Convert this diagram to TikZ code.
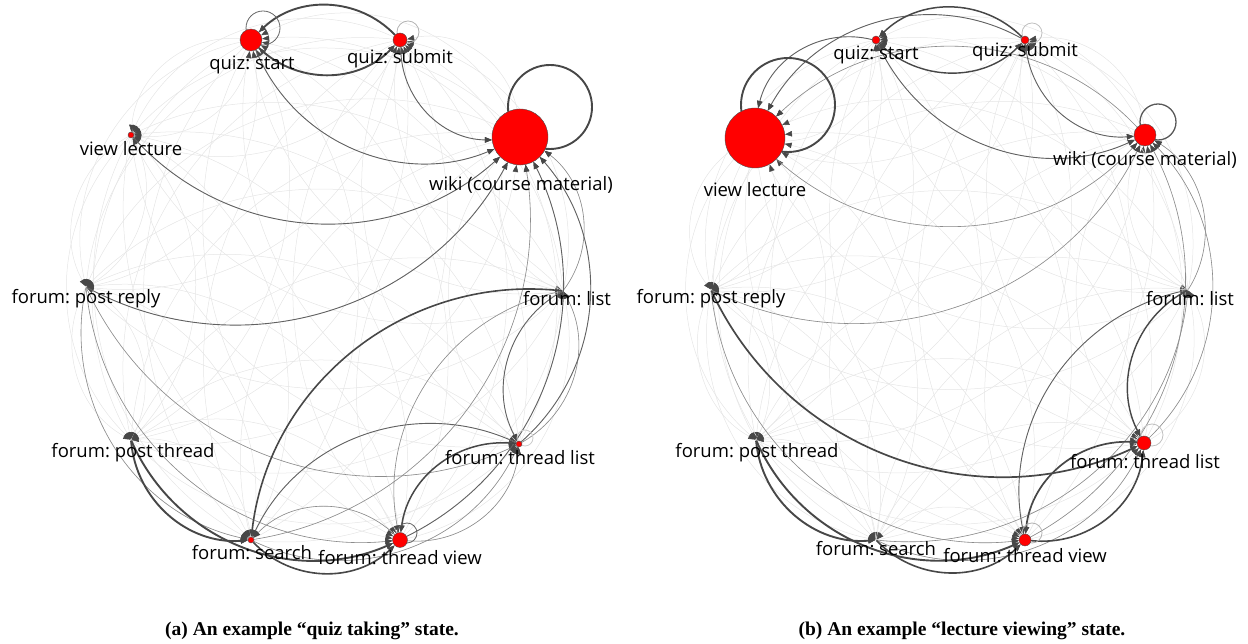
\documentclass[tikz,border=0pt]{standalone}
\usepackage{fontspec}
\setmainfont{Liberation Serif}
\newfontfamily\labelfont{Open Sans}
\usetikzlibrary{arrows.meta,backgrounds}
\frenchspacing

\begin{document}
\begin{tikzpicture}[x=1pt,y=1pt,
		state/.style={circle,inner sep=0pt,fill=red,draw=black!70,line width=0.4pt},
		hidden/.style={circle,inner sep=0pt,minimum size=1pt},
		lbl/.style={font=\labelfont\fontsize{18.5}{20}\selectfont,inner sep=0pt},
		tip/.style={-{Triangle[length=7pt,width=5.5pt,color=black!72]}},
		faint/.style={tip,draw=black!10,line width=0.5pt,bend right=45},
		light/.style={tip,draw=black!45,line width=0.6pt,bend right=45},
		medium/.style={tip,draw=black!62,line width=0.9pt,bend right=45},
		heavy/.style={tip,draw=black!72,line width=1.9pt,bend right=45},
		selfloop/.style={draw=black!60,line width=0.8pt}]
	\path[use as bounding box] (0,0) rectangle (1248,644);

	% (a) states on the circle, node size = share of the state
	\node[state,minimum size=22pt] (aqs) at (251,604) {};
	\node[state,minimum size=14pt] (aqsub) at (400,604) {};
	\node[state,minimum size=56pt] (awiki) at (520,507) {};
	\node[state,minimum size=6pt] (avl) at (131,509) {};
	\node[hidden] (apr) at (86,357) {};
	\node[hidden] (alist) at (563,353) {};
	\node[hidden] (apt) at (131,204) {};
	\node[state,minimum size=6pt] (atl) at (519,200) {};
	\node[state,minimum size=6pt] (asearch) at (251,104) {};
	\node[state,minimum size=15pt] (atv) at (400,104) {};

	% (b) the same states, other weights
	\node[state,minimum size=8pt] (bqs) at (876,604) {};
	\node[state,minimum size=8pt] (bqsub) at (1025,604) {};
	\node[state,minimum size=22pt] (bwiki) at (1145,509) {};
	\node[state,minimum size=60pt] (bvl) at (755,506) {};
	\node[hidden] (bpr) at (711,354) {};
	\node[hidden] (blist) at (1188,354) {};
	\node[hidden] (bpt) at (756,204) {};
	\node[state,minimum size=14pt] (btl) at (1144,201) {};
	\node[hidden] (bsearch) at (876,104) {};
	\node[state,minimum size=12pt] (btv) at (1025,104) {};

	\begin{scope}[on background layer]
		% every transition, drawn faintly
		\foreach \src in {qs,qsub,wiki,vl,pr,list,pt,tl,search,tv}{
			\foreach \dst in {qs,qsub,wiki,vl,pr,list,pt,tl,search,tv}{
				\ifx\src\dst\else
					\draw[faint] (a\src) to (a\dst);
					\draw[faint] (b\src) to (b\dst);
				\fi
			}
		}

		% (a) frequent transitions
		\draw[light] (alist) to (awiki);
		\draw[light] (asearch) to (awiki);
		\draw[light] (atv) to (asearch);
		\draw[light] (alist) to (atv);
		\draw[light] (apr) to (asearch);
		\draw[light] (apr) to (atv);
		\draw[light] (apr) to (atl);
		\draw[light] (atl) to (alist);
		\draw[light] (atv) to (atl);
		\draw[light] (asearch) to (atl);
		\draw[medium] (aqsub) to (awiki);
		\draw[medium] (aqs) to (awiki);
		\draw[medium] (avl) to (awiki);
		\draw[medium] (apr) to (awiki);
		\draw[medium] (atl) to (awiki);
		\draw[medium] (atv) to (awiki);
		\draw[medium] (atl) to (asearch);
		\draw[medium] (alist) to (atl);
		\draw[heavy] (aqsub) to (aqs);
		\draw[heavy] (aqs) to (aqsub);
		\draw[heavy,line width=1.6pt] (alist) to (asearch);
		\draw[heavy,line width=1.5pt] (atl) to (atv);
		\draw[heavy] (apt) to (asearch);
		\draw[heavy] (apt) to (atv);
		\draw[heavy,line width=1.6pt] (asearch) to (atv);
		% (a) self-loops
		\draw[selfloop] (aqs) ++(12,12) circle[radius=17];
		\draw[selfloop,draw=black!30] (aqsub) ++(8,8) circle[radius=11];
		\draw[selfloop,draw=black!72,line width=1.9pt] (awiki) ++(30,30) circle[radius=42];
		\draw[selfloop] (atv) ++(7,7) circle[radius=10];
		\draw[selfloop,draw=black!20] (atl) ++(6,6) circle[radius=8];

		% (b) frequent transitions
		\draw[light] (bvl) to (bwiki);
		\draw[light] (bwiki) to (bvl);
		\draw[light] (bpr) to (bwiki);
		\draw[light] (btl) to (bwiki);
		\draw[light] (btv) to (bwiki);
		\draw[light] (blist) to (bwiki);
		\draw[light] (bsearch) to (blist);
		\draw[light] (bsearch) to (btl);
		\draw[light] (bpr) to (btv);
		\draw[medium] (bqs) to (bvl);
		\draw[medium] (bqsub) to (bvl);
		\draw[medium] (bqs) to (bwiki);
		\draw[medium] (bqsub) to (bwiki);
		\draw[medium] (blist) to (btv);
		\draw[heavy,line width=1.5pt] (bqsub) to (bqs);
		\draw[heavy,line width=1.4pt] (bqs) to (bqsub);
		\draw[heavy,line width=1.7pt] (bpr) to (btl);
		\draw[heavy] (bpt) to (bsearch);
		\draw[heavy] (bpt) to (btv);
		\draw[heavy,line width=1.6pt] (bsearch) to (btv);
		\draw[heavy,line width=1.7pt] (btl) to (btv);
		\draw[heavy,line width=1.6pt] (btv) to (btl);
		\draw[heavy,line width=1.4pt] (blist) to (btl);
		% (b) self-loops
		\draw[selfloop,draw=black!72,line width=1.9pt] (bvl) ++(33,33) circle[radius=47];
		\draw[selfloop,draw=black!65,line width=1.3pt] (bwiki) ++(13,13) circle[radius=18];
		\draw[selfloop,draw=black!25] (bqsub) ++(7,7) circle[radius=10];
		\draw[selfloop,draw=black!25] (btl) ++(8,8) circle[radius=11];
		\draw[selfloop,draw=black!30] (btv) ++(7,7) circle[radius=10];
	\end{scope}

	% state names
	\node[lbl] (aqsL) at (252,579) {quiz: start};
	\node[lbl] (aqsubL) at (400,585) {quiz: submit};
	\node[lbl] (awikiL) at (521,459) {wiki (course material)};
	\node[lbl] (avlL) at (131,495) {view lecture};
	\node[lbl] (aprL) at (86,345) {forum: post reply};
	\node[lbl] (alistL) at (567,345) {forum: list};
	\node[lbl] (aptL) at (133,191) {forum: post thread};
	\node[lbl] (atlL) at (520,186) {forum: thread list};
	\node[lbl] (asearchL) at (252,91) {forum: search};
	\node[lbl] (atvL) at (400,86) {forum: thread view};

	\node[lbl] (bqsL) at (876,589) {quiz: start};
	\node[lbl] (bqsubL) at (1025,592) {quiz: submit};
	\node[lbl] (bwikiL) at (1145,484) {wiki (course material)};
	\node[lbl] (bvlL) at (755,454) {view lecture};
	\node[lbl] (bprL) at (711,345) {forum: post reply};
	\node[lbl] (blistL) at (1190,345) {forum: list};
	\node[lbl] (bptL) at (757,191) {forum: post thread};
	\node[lbl] (btlL) at (1145,182) {forum: thread list};
	\node[lbl] (bsearchL) at (876,95) {forum: search};
	\node[lbl] (btvL) at (1025,88) {forum: thread view};

	% captions
	\node[font=\bfseries\fontsize{19.5}{22}\selectfont,inner sep=0pt] (capa) at (312,13)
		{(a) An example “quiz taking” state.};
	\node[font=\bfseries\fontsize{19.5}{22}\selectfont,inner sep=0pt] (capb) at (962,13)
		{(b) An example “lecture viewing” state.};
\end{tikzpicture}
\end{document}
